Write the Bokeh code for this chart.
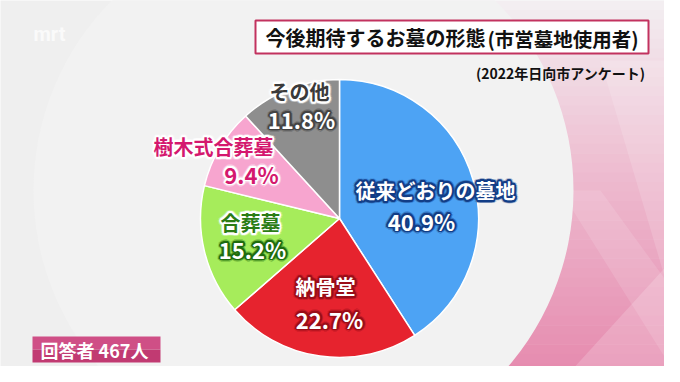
import numpy as np
from bokeh.plotting import figure
from bokeh.models import Range1d
from bokeh.core.properties import value
from bokeh.embed import file_html
from bokeh.resources import INLINE

# ---------------- data ----------------
categories = ["従来どおりの墓地", "納骨堂", "合葬墓", "樹木式合葬墓", "その他"]
shares = [40.9, 22.7, 15.2, 9.4, 11.8]
pct_labels = ["40.9%", "22.7%", "15.2%", "9.4%", "11.8%"]
respondents = 467
title_main = "今後期待するお墓の形態"
title_sub = "(市営墓地使用者)"
source_note = "(2022年日向市アンケート)"

# ---------------- styles / layout ----------------
slice_colors = ["#4da3f4", "#e6232e", "#a6ec5b", "#f7a5cf", "#8e8e8e"]
name_fill = ["#ffffff", "#ffffff", "#2b7d15", "#d4186e", "#3a3a3a"]
name_glow = ["#123d86", "#9a0d18", "#ffffff", "#ffffff", "#ffffff"]
pct_fill = ["#ffffff", "#ffffff", "#ffffff", "#d4186e", "#ffffff"]
pct_glow = ["#123d86", "#9a0d18", "#1e6b0e", "#ffffff", "#444444"]
# label anchor positions in reference pixel coordinates (name line, pct line)
name_pos = [(435, 190), (325, 286), (250, 222), (213, 146), (299, 91)]
pct_pos = [(421, 220), (329, 318), (252, 248), (251, 173), (301, 118)]

FONT = "Noto Sans CJK JP"
W, H = 664, 366


def Y(py):
    return 382 - py


p = figure(width=W, height=H, x_range=Range1d(0, W), y_range=Range1d(382 - H, 382),
           output_backend="svg", toolbar_location=None,
           x_axis_type=None, y_axis_type=None, min_border=0)
p.grid.visible = False
p.outline_line_color = None
p.background_fill_color = "#efefef"
p.border_fill_color = "#efefef"

# ---- decorative pink background on the right ----
def hex2rgb(h):
    return np.array([int(h[i:i + 2], 16) for i in (1, 3, 5)], dtype=float)

c_top, c_mid, c_bot = hex2rgb("#f3eef1"), hex2rgb("#eebcd0"), hex2rgb("#e68aae")
n = 40
edges = np.linspace(0, 382, n + 1)
for i in range(n):
    t = i / (n - 1)
    if t < 0.45:
        c = c_top + (c_mid - c_top) * (t / 0.45)
    else:
        c = c_mid + (c_bot - c_mid) * ((t - 0.45) / 0.55)
    col = "#%02x%02x%02x" % tuple(int(v) for v in c)
    p.quad(left=430, right=680, top=Y(edges[i]), bottom=Y(edges[i + 1]) - 0.5,
           fill_color=col, line_color=None)

# lighter facets
p.patch([560, 680, 680, 620], [Y(382), Y(250), Y(382), Y(382)],
        fill_color="#ffffff", fill_alpha=0.18, line_color=None)
p.patch([560, 600, 680, 680], [Y(190), Y(190), Y(300), Y(382)],
        fill_color="#ffffff", fill_alpha=0.12, line_color=None)
p.patch([600, 680, 680], [Y(60), Y(60), Y(330)],
        fill_color="#ffffff", fill_alpha=0.15, line_color=None)

# large light circle
p.circle(x=303, y=Y(190), radius=270, fill_color="#f2f2f2", line_color=None)

# faint logo
p.text(x=[33], y=[Y(33)], text=["mrt"], text_font=value("Roboto"), text_font_style="bold",
       text_font_size="20px", text_color="#ffffff", text_alpha=0.7,
       text_align="left", text_baseline="middle")

# ---- pie ----
cx, cy, r = 339, Y(218), 139
vals = np.array(shares, dtype=float)
frac = vals / vals.sum()
cum = np.concatenate([[0.0], np.cumsum(frac)])
start = np.pi / 2 - 2 * np.pi * cum[:-1]
end = np.pi / 2 - 2 * np.pi * cum[1:]
p.wedge(x=cx, y=cy, radius=r, start_angle=start, end_angle=end, direction="clock",
        fill_color=slice_colors, line_color="#ffffff", line_width=1.5)


# ---- labels with glow (offset copies behind the fill text) ----
ang = np.linspace(0, 2 * np.pi, 12, endpoint=False)
ring1 = [(1.8 * np.cos(a), 1.8 * np.sin(a)) for a in ang]
ring2 = [(3.2 * np.cos(a), 3.2 * np.sin(a)) for a in ang]


def glow_text(x, y, txt, size, fill, glow):
    for ring, alpha in ((ring2, 0.25), (ring1, 1.0)):
        k = len(ring)
        p.text(x=[x] * k, y=[y] * k, text=[txt] * k,
               x_offset=[o[0] for o in ring], y_offset=[o[1] for o in ring],
               text_font=value(FONT), text_font_style="bold", text_font_size=size,
               text_color=glow, text_alpha=alpha,
               text_align="center", text_baseline="middle")
    p.text(x=[x], y=[y], text=[txt], text_font=value(FONT), text_font_style="bold",
           text_font_size=size, text_color=fill, text_align="center", text_baseline="middle")


for i in range(len(categories)):
    nx, ny = name_pos[i]
    qx, qy = pct_pos[i]
    glow_text(nx, Y(ny), categories[i], "20px", name_fill[i], name_glow[i])
    glow_text(qx, Y(qy), pct_labels[i], "22px", pct_fill[i], pct_glow[i])

# ---- title box ----
p.quad(left=255, right=648, top=Y(20), bottom=Y(53), fill_color="#ffffff",
       line_color="#c2325f", line_width=2)
p.text(x=[265], y=[Y(37)], text=[title_main], text_font=value(FONT), text_font_style="bold",
       text_font_size="20px", text_color="#111111", text_align="left", text_baseline="middle")
p.text(x=[487], y=[Y(38)], text=[title_sub], text_font=value(FONT), text_font_style="bold",
       text_font_size="19.5px", text_color="#111111", text_align="left", text_baseline="middle")
p.text(x=[645], y=[Y(72)], text=[source_note], text_font=value(FONT), text_font_style="bold",
       text_font_size="14px", text_color="#111111", text_align="right", text_baseline="middle")

# ---- respondents badge ----
p.quad(left=32, right=160, top=Y(336), bottom=Y(349), fill_color="#cf4f86", line_color=None)
p.quad(left=32, right=160, top=Y(349), bottom=Y(362), fill_color="#c13a72", line_color=None)
p.text(x=[96], y=[Y(349)], text=[f"回答者  {respondents}人"], text_font=value(FONT),
       text_font_style="bold", text_font_size="18px", text_color="#ffffff",
       text_align="center", text_baseline="middle")

open("out.html", "w").write(file_html(p, INLINE))
